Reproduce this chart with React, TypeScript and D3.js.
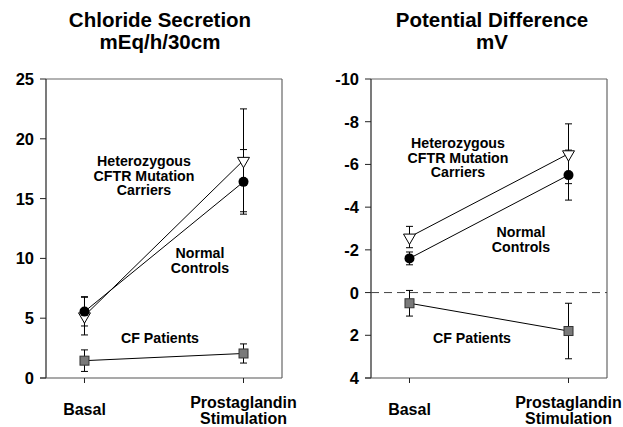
import React from "react";
import * as d3 from "d3";

const categories = ["Basal", "Prostaglandin|Stimulation"];

const chlorideTicks = [0, 5, 10, 15, 20, 25];
const chlorideNormal = [5.55, 16.4];
const chlorideNormalErr = [1.2, 2.7];
const chlorideHetero = [5.2, 18.2];
const chlorideHeteroErr = [1.6, 4.3];
const chlorideCF = [1.45, 2.05];
const chlorideCFErr = [0.9, 0.8];

const pdTicks = [-10, -8, -6, -4, -2, 0, 2, 4];
const pdNormal = [-1.6, -5.5];
const pdNormalErr = [0.3, 1.17];
const pdHetero = [-2.6, -6.5];
const pdHeteroErr = [0.5, 1.4];
const pdCF = [0.5, 1.8];
const pdCFErr = [0.6, 1.3];

const FONT = "'Liberation Sans', Arial, Helvetica, sans-serif";

type Series = { kind: "circle" | "triangle" | "square"; values: number[]; err: number[] };
type Label = { lines: string[]; x: number; y: number };

type PanelProps = {
  left: number;
  right: number;
  top: number;
  bottom: number;
  domain: [number, number];
  ticks: number[];
  title: string[];
  titleX: number;
  series: Series[];
  labels: Label[];
  zeroLine?: boolean;
};

function Panel(p: PanelProps) {
  const x = d3.scalePoint<string>().domain(categories).range([p.left, p.right]).padding(0.242);
  const y = d3.scaleLinear().domain(p.domain).range([p.top, p.bottom]);
  const capW = 3.5;
  const lineGen = d3
    .line<number>()
    .x((_, i) => x(categories[i]) as number)
    .y((v) => y(v));

  const order = ["square", "triangle", "circle"];
  const sorted = [...p.series].sort((a, b) => order.indexOf(a.kind) - order.indexOf(b.kind));

  return (
    <g>
      {p.title.map((t, i) => (
        <text
          key={t}
          x={p.titleX}
          y={27 + i * 21.5}
          textAnchor="middle"
          fontFamily={FONT}
          fontWeight="bold"
          fontSize={20.5}
          fill="#000"
        >
          {t}
        </text>
      ))}
      <line x1={p.left} x2={p.right} y1={p.top} y2={p.top} stroke="#666" strokeWidth={1.2} />
      <line x1={p.right} x2={p.right} y1={p.top} y2={p.bottom} stroke="#666" strokeWidth={1.2} />
      <line x1={p.left} x2={p.left} y1={p.top} y2={p.bottom} stroke="#222" strokeWidth={1.2} />
      <line x1={p.left - 6} x2={p.right} y1={p.bottom} y2={p.bottom} stroke="#555" strokeWidth={1.2} />
      {p.ticks.map((t) => (
        <g key={t}>
          <line x1={p.left - 6} x2={p.left} y1={y(t)} y2={y(t)} stroke="#222" strokeWidth={1} />
          <text
            x={p.left - 12}
            y={y(t)}
            dy="0.36em"
            textAnchor="end"
            fontFamily={FONT}
            fontWeight="bold"
            fontSize={16.5}
          >
            {t}
          </text>
        </g>
      ))}
      {p.zeroLine && (
        <line
          x1={p.left}
          x2={p.right}
          y1={y(0)}
          y2={y(0)}
          stroke="#444"
          strokeWidth={1}
          strokeDasharray="8,5"
        />
      )}
      {categories.map((c) => {
        const cx = x(c) as number;
        const parts = c.split("|");
        return (
          <g key={c}>
            <line x1={cx} x2={cx} y1={p.bottom} y2={p.bottom + 5} stroke="#222" strokeWidth={1} />
            {parts.length === 1 ? (
              <text x={cx} y={415} textAnchor="middle" fontFamily={FONT} fontWeight="bold" fontSize={16}>
                {parts[0]}
              </text>
            ) : (
              parts.map((s, i) => (
                <text
                  key={s}
                  x={cx}
                  y={408 + i * 16}
                  textAnchor="middle"
                  fontFamily={FONT}
                  fontWeight="bold"
                  fontSize={16}
                >
                  {s}
                </text>
              ))
            )}
          </g>
        );
      })}
      {sorted.map((s, si) => (
        <path key={"l" + si} d={lineGen(s.values) || ""} fill="none" stroke="#000" strokeWidth={1} />
      ))}
      {sorted.map((s, si) =>
        s.values.map((v, i) => {
          const cx = x(categories[i]) as number;
          const hi = y(v + s.err[i]);
          const lo = y(v - s.err[i]);
          return (
            <g key={"e" + si + i} stroke="#000" strokeWidth={1}>
              <line x1={cx} x2={cx} y1={hi} y2={lo} />
              <line x1={cx - capW} x2={cx + capW} y1={hi} y2={hi} />
              <line x1={cx - capW} x2={cx + capW} y1={lo} y2={lo} />
            </g>
          );
        })
      )}
      {sorted.map((s, si) =>
        s.values.map((v, i) => {
          const cx = x(categories[i]) as number;
          const cy = y(v);
          if (s.kind === "circle")
            return <circle key={"m" + si + i} cx={cx} cy={cy} r={5} fill="#000" />;
          if (s.kind === "square")
            return (
              <rect
                key={"m" + si + i}
                x={cx - 4.5}
                y={cy - 4.5}
                width={9}
                height={9}
                fill="#7a7a7a"
                stroke="#333"
                strokeWidth={1}
              />
            );
          const sym = d3.symbol().type(d3.symbolTriangle).size(62)();
          return (
            <path
              key={"m" + si + i}
              d={sym || ""}
              transform={`translate(${cx},${cy + 0.5}) rotate(180)`}
              fill="#fff"
              stroke="#000"
              strokeWidth={1}
            />
          );
        })
      )}
      {p.labels.map((l, li) =>
        l.lines.map((s, i) => (
          <text
            key={"a" + li + i}
            x={l.x}
            y={l.y + i * 14.5}
            textAnchor="middle"
            fontFamily={FONT}
            fontWeight="bold"
            fontSize={14.2}
          >
            {s}
          </text>
        ))
      )}
    </g>
  );
}

export default function App() {
  return (
    <svg
      width={623}
      height={427}
      style={{ position: "absolute", left: 0, top: 0, background: "#fff" }}
    >
      <Panel
        left={46}
        right={282}
        top={79}
        bottom={378}
        domain={[25, 0]}
        ticks={chlorideTicks}
        title={["Chloride Secretion", "mEq/h/30cm"]}
        titleX={160}
        series={[
          { kind: "circle", values: chlorideNormal, err: chlorideNormalErr },
          { kind: "triangle", values: chlorideHetero, err: chlorideHeteroErr },
          { kind: "square", values: chlorideCF, err: chlorideCFErr },
        ]}
        labels={[
          { lines: ["Heterozygous", "CFTR Mutation", "Carriers"], x: 144, y: 166 },
          { lines: ["Normal", "Controls"], x: 200, y: 258 },
          { lines: ["CF Patients"], x: 160, y: 343 },
        ]}
      />
      <Panel
        left={371}
        right={607}
        top={79}
        bottom={378}
        domain={[-10, 4]}
        ticks={pdTicks}
        title={["Potential Difference", "mV"]}
        titleX={492}
        series={[
          { kind: "circle", values: pdNormal, err: pdNormalErr },
          { kind: "triangle", values: pdHetero, err: pdHeteroErr },
          { kind: "square", values: pdCF, err: pdCFErr },
        ]}
        labels={[
          { lines: ["Heterozygous", "CFTR Mutation", "Carriers"], x: 458, y: 148 },
          { lines: ["Normal", "Controls"], x: 521, y: 237 },
          { lines: ["CF Patients"], x: 472, y: 343 },
        ]}
        zeroLine
      />
    </svg>
  );
}
